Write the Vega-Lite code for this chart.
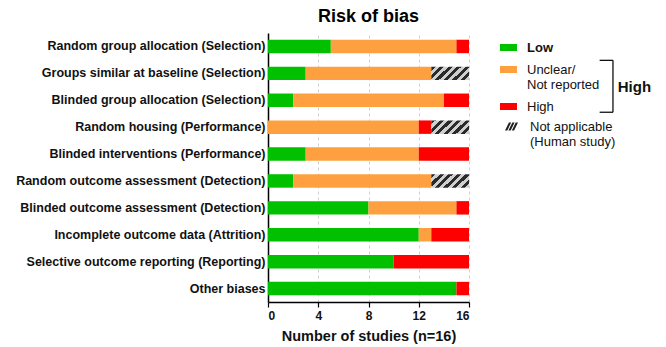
{
  "$schema": "https://vega.github.io/schema/vega-lite/v6.json",
  "autosize": {"type": "none"},
  "width": 201,
  "height": 269,
  "padding": {"left": 268, "top": 33, "right": 197, "bottom": 45},
  "background": "white",
  "config": {
    "font": "Liberation Sans",
    "view": {"stroke": null}
  },
  "title": {"text": "Risk of bias", "fontSize": 18, "fontWeight": "bold", "font": "Liberation Sans", "color": "black", "anchor": "middle", "offset": 7},
  "data": {
    "values": [
      {"domain": "Random group allocation (Selection)", "risk": "Low", "n": 5},
      {"domain": "Random group allocation (Selection)", "risk": "Unclear", "n": 10},
      {"domain": "Random group allocation (Selection)", "risk": "High", "n": 1},
      {"domain": "Groups similar at baseline (Selection)", "risk": "Low", "n": 3},
      {"domain": "Groups similar at baseline (Selection)", "risk": "Unclear", "n": 10},
      {"domain": "Groups similar at baseline (Selection)", "risk": "NA", "n": 3},
      {"domain": "Blinded group allocation (Selection)", "risk": "Low", "n": 2},
      {"domain": "Blinded group allocation (Selection)", "risk": "Unclear", "n": 12},
      {"domain": "Blinded group allocation (Selection)", "risk": "High", "n": 2},
      {"domain": "Random housing (Performance)", "risk": "Unclear", "n": 12},
      {"domain": "Random housing (Performance)", "risk": "High", "n": 1},
      {"domain": "Random housing (Performance)", "risk": "NA", "n": 3},
      {"domain": "Blinded interventions (Performance)", "risk": "Low", "n": 3},
      {"domain": "Blinded interventions (Performance)", "risk": "Unclear", "n": 9},
      {"domain": "Blinded interventions (Performance)", "risk": "High", "n": 4},
      {"domain": "Random outcome assessment (Detection)", "risk": "Low", "n": 2},
      {"domain": "Random outcome assessment (Detection)", "risk": "Unclear", "n": 11},
      {"domain": "Random outcome assessment (Detection)", "risk": "NA", "n": 3},
      {"domain": "Blinded outcome assessment (Detection)", "risk": "Low", "n": 8},
      {"domain": "Blinded outcome assessment (Detection)", "risk": "Unclear", "n": 7},
      {"domain": "Blinded outcome assessment (Detection)", "risk": "High", "n": 1},
      {"domain": "Incomplete outcome data (Attrition)", "risk": "Low", "n": 12},
      {"domain": "Incomplete outcome data (Attrition)", "risk": "Unclear", "n": 1},
      {"domain": "Incomplete outcome data (Attrition)", "risk": "High", "n": 3},
      {"domain": "Selective outcome reporting (Reporting)", "risk": "Low", "n": 10},
      {"domain": "Selective outcome reporting (Reporting)", "risk": "High", "n": 6},
      {"domain": "Other biases", "risk": "Low", "n": 15},
      {"domain": "Other biases", "risk": "High", "n": 1}
    ]
  },
  "transform": [
    {"calculate": "indexof(['Low', 'Unclear', 'High', 'NA'], datum.risk)", "as": "ord"},
    {"stack": "n", "groupby": ["domain"], "sort": [{"field": "ord", "order": "ascending"}], "as": ["x0", "x1"]}
  ],
  "encoding": {
    "y": {
      "field": "domain", "type": "nominal", "sort": null,
      "scale": {"paddingInner": 0.5, "paddingOuter": 0.25},
      "axis": {"title": null, "ticks": false, "domainColor": "black", "domainWidth": 1.5, "labelFontWeight": "bold", "labelFontSize": 12.5, "labelColor": "#111", "labelPadding": 3, "labelLimit": 300}
    }
  },
  "layer": [
    {
      "transform": [{"filter": "datum.risk != 'NA'"}],
      "mark": {"type": "bar"},
      "encoding": {
        "x": {
          "field": "x0", "type": "quantitative",
          "scale": {"domain": [0, 16], "nice": false},
          "axis": {
            "values": [0, 2, 4, 6, 8, 10, 12, 14, 16],
            "labelExpr": "datum.value % 4 == 0 ? datum.label : ''",
            "title": "Number of studies (n=16)", "titleFontSize": 14.5, "titleFontWeight": "bold", "titleColor": "#111", "titlePadding": 8,
            "labelFontWeight": "bold", "labelFontSize": 12, "labelColor": "#111", "labelPadding": 3,
            "domainColor": "black", "domainWidth": 1.5, "tickColor": "black", "tickWidth": 1.2,
            "tickSize": {"condition": {"test": "datum.value % 4 == 0", "value": 5}, "value": 3},
            "grid": true, "gridColor": "#c4c4c4", "gridDash": [3, 3], "gridWidth": 0.8,
            "gridOpacity": {"condition": {"test": "datum.value % 4 == 0 && datum.value > 0", "value": 1}, "value": 0}
          }
        },
        "x2": {"field": "x1"},
        "color": {
          "field": "risk", "type": "nominal",
          "scale": {
            "domain": ["Low", "Unclear", "High"],
            "range": ["#00c000", "#ffa040", "#ff0000"]
          },
          "legend": {
            "title": null, "orient": "none", "legendX": 232, "legendY": 6,
            "symbolType": "M-1,-0.41H1V0.41H-1Z", "symbolSize": 289, "symbolStrokeWidth": 0,
            "labelFontSize": 13, "labelColor": "#111", "labelOffset": 10, "rowPadding": 6,
            "labelFontWeight": {"expr": "datum.label == 'Low' ? 'bold' : 'normal'"},
            "labelExpr": "datum.label == 'Unclear' ? ['Unclear/', 'Not reported'] : datum.label"
          }
        }
      }
    },
    {
      "transform": [{"filter": "datum.risk == 'NA'"}],
      "mark": {"type": "point", "filled": true, "color": "#222222", "size": 20, "xOffset": 19},
      "encoding": {
        "x": {"field": "x0", "type": "quantitative"},
        "shape": {
          "field": "risk", "type": "nominal",
          "scale": {"domain": ["NA"], "range": ["M-1,0.6L-0.65,0.6L-0.05,-0.6L-0.4,-0.6ZM-0.475,0.6L-0.125,0.6L0.475,-0.6L0.125,-0.6ZM0.05,0.6L0.4,0.6L1,-0.6L0.65,-0.6Z"]},
          "legend": {
            "title": null, "orient": "none", "legendX": 237, "legendY": 87,
            "symbolSize": 169, "symbolFillColor": "#222222", "symbolStrokeWidth": 0, "symbolOpacity": 1,
            "labelFontSize": 13, "labelColor": "#111", "labelOffset": 12,
            "labelExpr": "['Not applicable', '(Human study)']"
          }
        }
      }
    },
    {
      "transform": [{"filter": "datum.risk == 'NA'"}],
      "mark": {
        "type": "bar",
        "fill": {
          "gradient": "linear", "x1": 0, "y1": 0, "x2": 1.205, "y2": 0.446,
          "stops": [
            {"offset": 0, "color": "#2a2a2a"}, {"offset": 0.0833, "color": "#2a2a2a"}, {"offset": 0.0833, "color": "#cfcfcf"}, {"offset": 0.1667, "color": "#cfcfcf"},
            {"offset": 0.1667, "color": "#2a2a2a"}, {"offset": 0.25, "color": "#2a2a2a"}, {"offset": 0.25, "color": "#cfcfcf"}, {"offset": 0.3333, "color": "#cfcfcf"},
            {"offset": 0.3333, "color": "#2a2a2a"}, {"offset": 0.4167, "color": "#2a2a2a"}, {"offset": 0.4167, "color": "#cfcfcf"}, {"offset": 0.5, "color": "#cfcfcf"},
            {"offset": 0.5, "color": "#2a2a2a"}, {"offset": 0.5833, "color": "#2a2a2a"}, {"offset": 0.5833, "color": "#cfcfcf"}, {"offset": 0.6667, "color": "#cfcfcf"},
            {"offset": 0.6667, "color": "#2a2a2a"}, {"offset": 0.75, "color": "#2a2a2a"}, {"offset": 0.75, "color": "#cfcfcf"}, {"offset": 0.8333, "color": "#cfcfcf"},
            {"offset": 0.8333, "color": "#2a2a2a"}, {"offset": 0.9167, "color": "#2a2a2a"}, {"offset": 0.9167, "color": "#cfcfcf"}, {"offset": 1, "color": "#cfcfcf"}
          ]
        }
      },
      "encoding": {
        "x": {"field": "x0", "type": "quantitative"},
        "x2": {"field": "x1"}
      }
    },
    {
      "data": {"values": [{"label": "High"}]},
      "layer": [
        {
          "mark": {"type": "rule", "color": "#111", "strokeWidth": 1.3, "clip": false, "yOffset": -13, "y2Offset": 12},
          "encoding": {
            "x": {"datum": 27.46, "type": "quantitative"},
            "y": {"datum": "Groups similar at baseline (Selection)", "type": "nominal"},
            "y2": {"datum": "Blinded group allocation (Selection)"}
          }
        },
        {
          "mark": {"type": "rule", "color": "#111", "strokeWidth": 1.3, "clip": false, "yOffset": -13},
          "encoding": {
            "x": {"datum": 26.4, "type": "quantitative"},
            "x2": {"datum": 27.46},
            "y": {"datum": "Groups similar at baseline (Selection)", "type": "nominal"}
          }
        },
        {
          "mark": {"type": "rule", "color": "#111", "strokeWidth": 1.3, "clip": false, "yOffset": 12},
          "encoding": {
            "x": {"datum": 26.4, "type": "quantitative"},
            "x2": {"datum": 27.46},
            "y": {"datum": "Blinded group allocation (Selection)", "type": "nominal"}
          }
        },
        {
          "mark": {"type": "text", "fontWeight": "bold", "fontSize": 15, "color": "#111", "align": "left", "baseline": "middle", "dx": 3, "dy": 14, "clip": false},
          "encoding": {
            "x": {"datum": 27.6, "type": "quantitative"},
            "y": {"datum": "Groups similar at baseline (Selection)", "type": "nominal"},
            "text": {"field": "label"}
          }
        }
      ]
    }
  ]
}
